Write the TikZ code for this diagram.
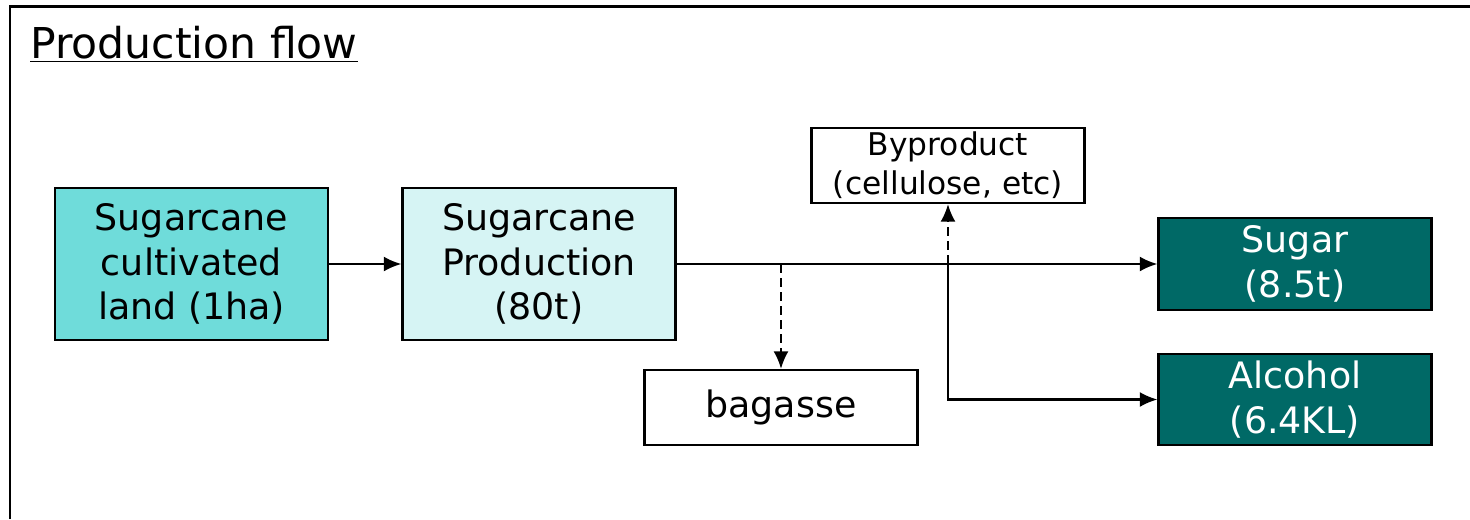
\documentclass[tikz,border=0pt]{standalone}
\usepackage{fontspec}
\setmainfont{DejaVu Sans}
\usetikzlibrary{arrows.meta}
\definecolor{landcol}{HTML}{6FDCDA}
\definecolor{prodcol}{HTML}{D6F4F4}
\definecolor{outcol}{HTML}{006966}
\newcommand\titletxt{\fontsize{24.2}{29}\selectfont}
\newcommand\boxtxt{\fontsize{20.7}{25.5}\selectfont}
\newcommand\smalltxt{\fontsize{17.8}{22}\selectfont}

\begin{document}
\begin{tikzpicture}[>={Latex[length=10pt,width=8.5pt]},
  box/.style={draw,line width=1.2pt,minimum width=5.46cm,align=center,inner sep=0pt,font=\boxtxt},
  flow/.style={line width=1.25pt}]
\useasboundingbox (0,0) rectangle (29.4,-10.38);
\draw[line width=1.4pt] (0.2,-10.38) -- (0.2,-0.13) -- (29.4,-0.13);
\node[anchor=base west,font=\titletxt,inner sep=0pt] (title) at(0.6,-1.16){\underline{Production flow}};
\node[box,fill=landcol,minimum height=3.04cm] (land) at(3.83,-5.28){Sugarcane\\cultivated\\land (1ha)};
\node[box,fill=prodcol,minimum height=3.04cm] (prod) at(10.78,-5.28){Sugarcane\\Production\\(80t)};
\node[box,fill=outcol,text=white,minimum height=1.84cm] (sugar) at(25.9,-5.28){Sugar\\(8.5t)};
\node[box,fill=outcol,text=white,minimum height=1.82cm] (alcohol) at(25.9,-7.99){Alcohol\\(6.4KL)};
\node[box,minimum height=1.5cm] (bagasse) at(15.62,-8.15){bagasse};
\node[box,font=\smalltxt,minimum height=1.5cm] (byprod) at(18.96,-3.31){Byproduct\\(cellulose, etc)};
\draw[flow,->] (land) -- (prod);
\draw[flow,->] (prod) -- (sugar);
\draw[flow,->,dash pattern=on 5pt off 3pt] (bagasse.north |- prod.east) -- (bagasse);
\draw[flow,->,dash pattern=on 5pt off 3pt] (byprod.south |- prod.east) -- (byprod);
\draw[flow,->] (byprod.south |- prod.east) |- (alcohol);
\end{tikzpicture}
\end{document}
